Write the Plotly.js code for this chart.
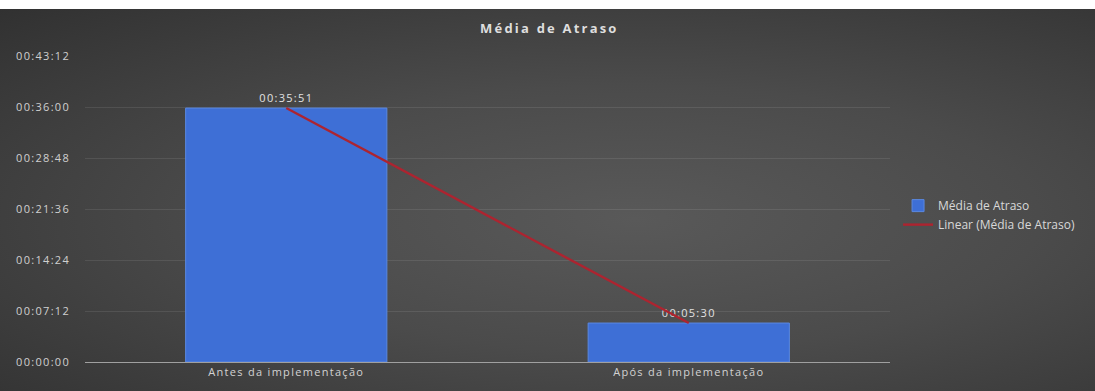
<!DOCTYPE html>
<html>
<head>
<meta charset="utf-8">
<script src="https://cdn.plot.ly/plotly-3.0.1.min.js"></script>
<style>
html,body{margin:0;padding:0;background:#fff;}
#wrap{position:absolute;left:0;top:9px;width:1095px;height:382px;
background:radial-gradient(ellipse at 58% 55%, #595959 0%, #4b4b4b 45%, #313131 100%);}
#chart{width:1095px;height:382px;}
#chart svg text{letter-spacing:1.3px;}
#chart .gtitle{letter-spacing:2.2px !important;}
#chart .legend text{letter-spacing:0px !important;}
</style>
</head>
<body>
<div id="wrap"><div id="chart"></div></div>
<script>
const categories = ["Antes da implementação", "Após da implementação"];
const delaySeconds = [2151, 330];
const delayLabels = ["00:35:51", "00:05:30"];
const tickValues = [0, 432, 864, 1296, 1728, 2160, 2592];
const tickLabels = ["00:00:00", "00:07:12", "00:14:24", "00:21:36", "00:28:48", "00:36:00", "00:43:12"];
const seriesName = "Média de Atraso";
const trendName = "Linear (Média de Atraso)";

// linear trend (least squares over category index)
const n = delaySeconds.length;
const xs = delaySeconds.map((_, i) => i + 1);
const mx = xs.reduce((a, b) => a + b, 0) / n;
const my = delaySeconds.reduce((a, b) => a + b, 0) / n;
let sxy = 0, sxx = 0;
xs.forEach((x, i) => { sxy += (x - mx) * (delaySeconds[i] - my); sxx += (x - mx) * (x - mx); });
const slope = sxy / sxx, icpt = my - slope * mx;
const trend = xs.map(x => icpt + slope * x);

const FONT = 'Open Sans, sans-serif';
const bars = {
  type: 'bar', x: categories, y: delaySeconds, name: seriesName,
  width: 0.5,
  marker: {color: '#3e6fd6', line: {color: '#5a88e0', width: 1}},
  text: delayLabels, textposition: 'outside', cliponaxis: false,
  textfont: {color: '#e2e2e2', size: 11, family: FONT},
  hoverinfo: 'skip'
};
const line = {
  type: 'scatter', mode: 'lines', x: categories, y: trend, name: trendName,
  line: {color: '#ad2430', width: 2.4}, hoverinfo: 'skip'
};

const layout = {
  width: 1095, height: 382,
  paper_bgcolor: 'rgba(0,0,0,0)', plot_bgcolor: 'rgba(0,0,0,0)',
  margin: {l: 85, r: 205, t: 47, b: 29},
  title: {text: '<b>Média de Atraso</b>', x: 0.5017, xanchor: 'center', y: 0.948, yanchor: 'middle',
          font: {color: '#dedede', size: 13, family: FONT}},
  showlegend: true,
  legend: {x: 1.01, xanchor: 'left', y: 0.48, yanchor: 'middle',
           font: {color: '#d8d8d8', size: 12, family: FONT},
           bgcolor: 'rgba(0,0,0,0)', tracegroupgap: 0, itemwidth: 30},
  xaxis: {type: 'category', showgrid: false, zeroline: false,
          showline: true, linecolor: '#a0a0a0', linewidth: 1,
          tickfont: {color: '#d2d2d2', size: 11, family: FONT},
          ticks: '', range: [-0.5, 1.5]},
  yaxis: {range: [0, 2592], tickvals: tickValues, ticktext: tickLabels,
          showgrid: true, gridcolor: 'rgba(255,255,255,0.09)', gridwidth: 1,
          zeroline: false, showline: false, ticks: '',
          tickfont: {color: '#d0d0d0', size: 11, family: FONT},
          ticklabelstandoff: 14},
  bargap: 0.5
};
Plotly.newPlot('chart', [bars, line], layout, {staticPlot: true, displayModeBar: false});
</script>
</body>
</html>
